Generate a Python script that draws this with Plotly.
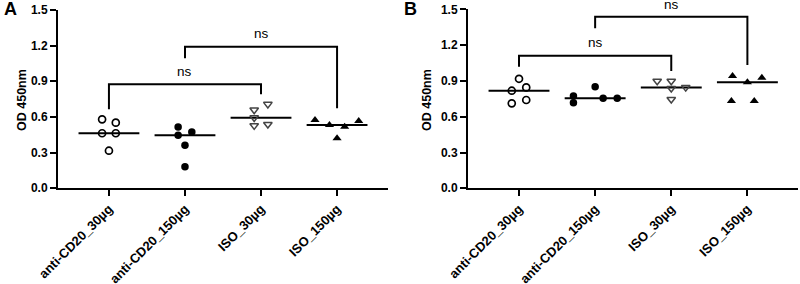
import numpy as np
import plotly.graph_objects as go

groups = ["anti-CD20_30µg", "anti-CD20_150µg", "ISO_30µg", "ISO_150µg"]
yticks = [0.0, 0.3, 0.6, 0.9, 1.2, 1.5]

# Panel A values and horizontal jitter offsets (category units)
a_cd20_30 = [0.580, 0.552, 0.463, 0.463, 0.316]
a_cd20_30_dx = [-0.09, 0.09, -0.09, 0.09, 0.0]
a_cd20_150 = [0.516, 0.446, 0.474, 0.362, 0.182]
a_cd20_150_dx = [-0.09, -0.09, 0.09, 0.0, 0.0]
a_iso_30 = [0.659, 0.707, 0.594, 0.527, 0.538]
a_iso_30_dx = [-0.09, 0.09, -0.09, -0.09, 0.09]
a_iso_150 = [0.575, 0.533, 0.518, 0.566, 0.421]
a_iso_150_dx = [-0.29, -0.10, 0.10, 0.285, 0.0]

# Panel B values
b_cd20_30 = [0.918, 0.846, 0.818, 0.712, 0.740]
b_cd20_30_dx = [0.0, 0.095, -0.095, -0.095, 0.095]
b_cd20_150 = [0.773, 0.717, 0.851, 0.754, 0.754]
b_cd20_150_dx = [-0.285, -0.285, 0.0, 0.105, 0.29]
b_iso_30 = [0.899, 0.899, 0.846, 0.838, 0.746]
b_iso_30_dx = [-0.185, 0.0, 0.19, 0.0, 0.0]
b_iso_150 = [0.941, 0.927, 0.888, 0.732, 0.732]
b_iso_150_dx = [-0.195, 0.19, 0.0, -0.21, 0.09]

# significance brackets: (left group, right group, top y, left leg bottom, right leg bottom, label y)
a_brackets = [(0, 2, 0.875, 0.665, 0.79, 0.985), (1, 3, 1.19, 1.094, 0.673, 1.30)]
b_brackets = [(0, 2, 1.111, 1.019, 0.983, 1.225), (1, 3, 1.438, 1.341, 1.033, 1.545)]
sig_label = "ns"
y_max = 1.5

styles = [
    dict(symbol="circle-open", size=7, color="black", line=dict(width=1.7, color="black")),
    dict(symbol="circle", size=7.5, color="black", line=dict(width=0, color="black")),
    dict(symbol="triangle-down-open", size=7.5, color="#444444", line=dict(width=1.5, color="#444444")),
    dict(symbol="triangle-up", size=8, color="black", line=dict(width=0, color="black")),
]

FONT = "Liberation Sans, Arial"
fig = go.Figure()

panels = [
    ("x", "y", [(a_cd20_30, a_cd20_30_dx), (a_cd20_150, a_cd20_150_dx),
                (a_iso_30, a_iso_30_dx), (a_iso_150, a_iso_150_dx)], a_brackets),
    ("x2", "y2", [(b_cd20_30, b_cd20_30_dx), (b_cd20_150, b_cd20_150_dx),
                  (b_iso_30, b_iso_30_dx), (b_iso_150, b_iso_150_dx)], b_brackets),
]

for xa, ya, data, brackets in panels:
    for gi, (vals, dx) in enumerate(data):
        med = float(np.median(vals))
        fig.add_trace(go.Scatter(x=[gi - 0.4, gi + 0.4], y=[med, med], mode="lines",
                                 line=dict(color="black", width=2), xaxis=xa, yaxis=ya,
                                 showlegend=False, hoverinfo="skip"))
        fig.add_trace(go.Scatter(x=[gi + d for d in dx], y=vals, mode="markers",
                                 marker=styles[gi], xaxis=xa, yaxis=ya, showlegend=False,
                                 cliponaxis=False))
    for (g1, g2, top, lb, rb, ty) in brackets:
        fig.add_trace(go.Scatter(x=[g1, g1, g2, g2], y=[lb, top, top, rb], mode="lines",
                                 line=dict(color="black", width=2), xaxis=xa, yaxis=ya,
                                 showlegend=False, hoverinfo="skip", cliponaxis=False))
        fig.add_annotation(x=(g1 + g2) / 2, y=ty / y_max, xref=xa, yref=ya + " domain",
                           text=sig_label, showarrow=False, xanchor="center", yanchor="middle",
                           font=dict(family=FONT, size=13.5, color="black"))

ytick_font = dict(family=FONT, size=12, color="black", weight="bold")
xtick_font = dict(family=FONT, size=13, color="black", weight="bold")

xcommon = dict(range=[-0.67, 3.67], tickvals=[0, 1, 2, 3], ticktext=groups, tickangle=-45,
               showline=True, linewidth=2, linecolor="black", ticks="outside", ticklen=6,
               tickwidth=2, tickcolor="black", showgrid=False, zeroline=False,
               tickfont=xtick_font, automargin=False)
ycommon = dict(range=[0, y_max], tickvals=yticks, tickformat=".1f", showline=True, linewidth=2,
               linecolor="black", ticks="outside", ticklen=6, tickwidth=2, tickcolor="black",
               showgrid=False, zeroline=False, tickfont=ytick_font, automargin=False)

fig.update_layout(
    width=800, height=284, margin=dict(l=0, r=0, t=0, b=0, autoexpand=False),
    plot_bgcolor="white", paper_bgcolor="white",
    xaxis=dict(domain=[0.0725, 0.485], anchor="y", **xcommon),
    yaxis=dict(domain=[0.337, 0.965], anchor="x", **ycommon),
    xaxis2=dict(domain=[0.585, 0.998], anchor="y2", **xcommon),
    yaxis2=dict(domain=[0.337, 0.967], anchor="x2", **ycommon),
)

for xp, label in [(0.002, "A"), (0.502, "B")]:
    fig.add_annotation(x=xp, y=1 - 9 / 284, xref="paper", yref="paper", text=label,
                       showarrow=False, xanchor="left", yanchor="middle",
                       font=dict(family=FONT, size=18, color="black", weight="bold"))
for xp in [22 / 800, 427 / 800]:
    fig.add_annotation(x=xp, y=1 - 100 / 284, xref="paper", yref="paper", text="OD 450nm",
                       showarrow=False, textangle=-90, xanchor="center", yanchor="middle",
                       font=dict(family=FONT, size=12.5, color="black", weight="bold"))

fig.write_html("out.html", config={"displayModeBar": False},
               post_script="document.body.style.margin='0';document.body.style.overflow='hidden';")
